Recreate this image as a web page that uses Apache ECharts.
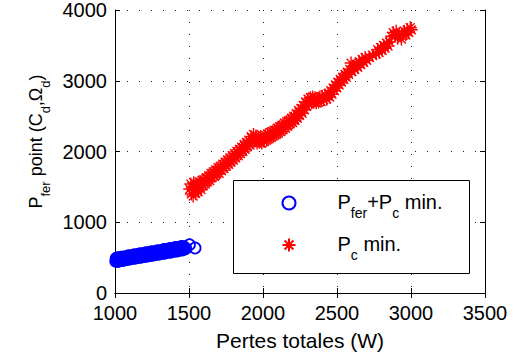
<!DOCTYPE html>
<html><head><meta charset="utf-8">
<script src="https://cdn.jsdelivr.net/npm/echarts@6/dist/echarts.min.js"></script>
<style>html,body{margin:0;padding:0;background:#fff}#c{width:518px;height:358px}</style>
</head><body><div id="c"></div>
<script>
// Blue series: "Pfer+Pc min." (Pertes totales W, Pfer point)
const blueX = [1005,1008,1012,1016,1020,1024,1028,1032,1036,1040,1045,1050,1055,1060,1065,1070,1075,1080,1085,1090,1095,1100,1105,1110,1115,1120,1125,1130,1135,1140,1145,1150,1155,1160,1165,1170,1175,1180,1185,1190,1195,1200,1205,1210,1215,1220,1225,1230,1235,1240,1245,1250,1255,1260,1265,1270,1275,1280,1285,1290,1295,1300,1305,1310,1315,1320,1325,1330,1335,1340,1345,1350,1355,1360,1365,1370,1375,1380,1385,1390,1395,1400,1405,1410,1415,1420,1425,1430,1435,1440,1445,1450,1455,1460,1465,1470,1478,1503,1541];
const blueY = [450,491,468,499,445,482,493,462,458,503,480,511,460,495,507,477,473,517,494,526,476,510,522,490,487,532,509,541,490,524,536,505,502,547,524,555,505,539,551,520,517,561,538,570,519,554,566,534,531,576,553,585,534,568,580,549,546,591,568,599,548,583,595,564,561,605,582,614,563,598,609,578,575,620,597,629,577,612,624,593,590,635,611,643,592,627,639,608,604,649,626,658,607,641,653,622,630,682,636];
// Red series: "Pc min."
const redX = [1505,1512,1516,1522,1528,1532,1538,1545,1550,1556,1562,1568,1575,1582,1588,1595,1602,1610,1618,1625,1633,1640,1648,1656,1664,1672,1680,1688,1696,1704,1712,1720,1728,1736,1744,1752,1760,1768,1776,1784,1792,1800,1808,1816,1824,1832,1840,1848,1856,1864,1872,1880,1888,1896,1904,1912,1920,1928,1936,1944,1952,1960,1968,1976,1984,1992,2000,2008,2016,2024,2032,2040,2048,2056,2064,2072,2080,2088,2096,2104,2112,2120,2128,2136,2144,2152,2160,2168,2176,2184,2192,2200,2208,2216,2224,2232,2240,2248,2256,2264,2272,2280,2288,2296,2304,2312,2320,2328,2336,2344,2352,2360,2368,2376,2384,2392,2400,2410,2420,2430,2440,2450,2458,2466,2474,2482,2490,2498,2506,2514,2522,2530,2538,2546,2554,2562,2570,2578,2586,2595,2600,2610,2620,2630,2640,2650,2660,2670,2680,2690,2700,2720,2740,2765,2775,2785,2795,2805,2815,2825,2835,2845,2855,2870,2880,2890,2900,2910,2920,2935,2945,2955,2965,2975,2985,2995,3002];
const redY = [1470,1540,1400,1500,1370,1560,1450,1410,1540,1500,1430,1570,1490,1460,1590,1520,1600,1540,1630,1570,1660,1590,1690,1630,1710,1650,1740,1680,1770,1690,1790,1730,1820,1760,1850,1790,1880,1820,1910,1850,1940,1880,1970,1910,2000,1940,2030,1970,2060,2000,2100,2030,2130,2070,2160,2090,2210,2130,2240,2150,2220,2120,2200,2130,2210,2120,2190,2140,2230,2160,2250,2180,2270,2200,2280,2220,2300,2240,2330,2260,2350,2280,2370,2310,2400,2330,2420,2360,2440,2390,2470,2410,2500,2440,2530,2470,2580,2510,2610,2540,2650,2590,2700,2640,2740,2670,2760,2690,2770,2700,2760,2690,2750,2700,2770,2710,2780,2730,2800,2740,2820,2770,2860,2810,2900,2860,2940,2900,2980,2940,3020,2980,3050,3020,3090,3050,3120,3090,3160,3250,3130,3200,3160,3230,3190,3270,3230,3300,3260,3330,3290,3330,3360,3380,3440,3400,3470,3430,3500,3460,3530,3490,3550,3630,3680,3640,3700,3600,3650,3590,3660,3700,3650,3720,3680,3750,3720];
const xTicks = [1000,1500,2000,2500,3000,3500];
const yTicks = [0,1000,2000,3000,4000];
const seriesNames = ['Pfer+Pc min.', 'Pc min.'];

const FONT = 'Liberation Sans, Arial, Helvetica, sans-serif';
const zip = (a, b) => a.map((v, i) => [v, b[i]]);
const starPath = 'path://M5,0L5,10M0,5L10,5M1.6,1.6L8.4,8.4M1.6,8.4L8.4,1.6';
const richLegend = {
  p: { fontSize: 20, lineHeight: 22, verticalAlign: 'top', fontFamily: FONT, color: '#000' },
  s: { fontSize: 14, lineHeight: 14, padding: [14, 0, 0, 0], verticalAlign: 'top', fontFamily: FONT, color: '#000' },
  sp: { width: 37 }
};
const richName = {
  p: { fontSize: 18, lineHeight: 20, verticalAlign: 'top', fontFamily: FONT, color: '#000' },
  s: { fontSize: 13, lineHeight: 13, padding: [12, 0, 0, 0], verticalAlign: 'top', fontFamily: FONT, color: '#000' }
};
const legendLabels = {
  'Pfer+Pc min.': '{sp|}{p|P}{s|fer}{p|+P}{s|c}{p| min.}',
  'Pc min.': '{sp|}{p|P}{s|c}{p| min.}'
};

const chart = echarts.init(document.getElementById('c'), null, { renderer: 'svg' });
const axisCommon = {
  type: 'value',
  axisLine: { show: true, lineStyle: { color: '#000', width: 1 } },
  axisTick: { show: true, inside: true, length: 5, lineStyle: { color: '#000' } },
};
const plain = v => String(v);
chart.setOption({
  animation: false,
  backgroundColor: '#fff',
  textStyle: { fontFamily: FONT },
  grid: { left: 115, right: 33, top: 10, bottom: 65, containLabel: false },
  xAxis: [
    Object.assign({}, axisCommon, {
      min: xTicks[0], max: xTicks[xTicks.length - 1], interval: 500, position: 'bottom',
      name: 'Pertes totales (W)', nameLocation: 'middle', nameGap: 37,
      nameTextStyle: { fontSize: 21, color: '#000', fontFamily: FONT },
      axisLabel: { show: true, fontSize: 20, color: '#000', margin: 10, fontFamily: FONT, formatter: plain },
      splitLine: { show: true, lineStyle: { color: '#222', type: [1, 11], width: 1 } }
    }),
    Object.assign({}, axisCommon, {
      min: xTicks[0], max: xTicks[xTicks.length - 1], interval: 500, position: 'top',
      axisLabel: { show: false }, splitLine: { show: false }
    })
  ],
  yAxis: [
    Object.assign({}, axisCommon, {
      min: yTicks[0], max: yTicks[yTicks.length - 1], interval: 1000, position: 'left',
      name: '{p|P}{s|fer}{p| point (C}{s|d}{p|,Ω}{s|d}{p|)}', nameLocation: 'middle', nameGap: 54,
      nameRotate: 90,
      nameTextStyle: { rich: richName, padding: [0, 0, 0, 20] },
      axisLabel: { show: true, fontSize: 20, color: '#000', margin: 8, fontFamily: FONT, formatter: plain },
      splitLine: { show: true, lineStyle: { color: '#222', type: [1, 11], width: 1 } }
    }),
    Object.assign({}, axisCommon, {
      min: yTicks[0], max: yTicks[yTicks.length - 1], interval: 1000, position: 'right',
      axisLabel: { show: false }, splitLine: { show: false }
    })
  ],
  graphic: [{
    type: 'rect', z: 3, left: 233, top: 180,
    shape: { width: 236, height: 93 },
    style: { fill: '#fff', stroke: '#000', lineWidth: 1 }
  }],
  legend: {
    z: 5, orient: 'vertical', left: 281.5, top: 192, padding: 0, itemGap: 14,
    itemWidth: 13, itemHeight: 13,
    data: seriesNames,
    formatter: name => legendLabels[name],
    textStyle: { rich: richLegend },
    selectedMode: false
  },
  series: [
    {
      name: seriesNames[0], type: 'scatter', data: zip(blueX, blueY),
      symbol: 'circle', symbolSize: 11, z: 2,
      itemStyle: { color: 'rgba(0,0,255,0)', borderColor: '#0000ff', borderWidth: 1.8, opacity: 1 },
      emphasis: { disabled: true }
    },
    {
      name: seriesNames[1], type: 'scatter', data: zip(redX, redY),
      symbol: starPath, symbolSize: 13, z: 2,
      itemStyle: { color: '#ff0000', borderColor: '#ff0000', borderWidth: 1.4, opacity: 1 },
      emphasis: { disabled: true }
    }
  ]
});
</script></body></html>
